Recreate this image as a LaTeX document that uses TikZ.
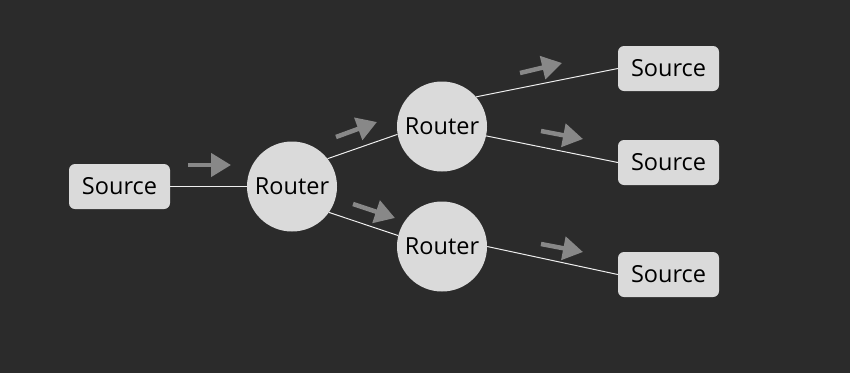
\documentclass[tikz,border=0pt]{standalone}
\usepackage{fontspec}
\setmainfont{Open Sans}
\usetikzlibrary{arrows.meta}
\definecolor{bg}{HTML}{2B2B2B}
\definecolor{nodefill}{HTML}{DADADA}
\definecolor{flow}{HTML}{888888}
\definecolor{link}{HTML}{EEEEEE}
\begin{document}
\begin{tikzpicture}[x=1pt,y=-1pt,
  srcbox/.style={draw=none,fill=nodefill,rounded corners=6pt,minimum width=101pt,minimum height=45pt,inner sep=0pt,font=\fontsize{23.5}{26}\selectfont,text=black},
  router/.style={circle,draw=none,fill=nodefill,minimum size=90pt,inner sep=0pt,font=\fontsize{23.5}{26}\selectfont,text=black},
  linkline/.style={draw=link,line width=1pt},
  flowarrow/.style={draw=flow,line width=4.5pt,-{Triangle[length=20pt,width=23pt]}}
]
\fill[bg] (0,0) rectangle (850,373);
\useasboundingbox (0,0) rectangle (850,373);

\node[srcbox] (s0) at (119.5,186.5) {Source};
\node[router] (r1) at (292,186.5) {Router};
\node[router] (r2) at (442,126.5) {Router};
\node[router] (r3) at (442,246.5) {Router};
\node[srcbox] (s1) at (668.5,68.5) {Source};
\node[srcbox] (s2) at (668.5,162.5) {Source};
\node[srcbox] (s3) at (668.5,274.5) {Source};

\draw[linkline] (s0.east) -- (r1.west);
\draw[linkline] (r1.38) -- (r2.190);
\draw[linkline] (r1.-35) -- (r3.166);
\draw[linkline] (r2.41) -- (s1.west);
\draw[linkline] (r2.-12) -- (s2.west);
\draw[linkline] (r3.east) -- (s3.west);

\coordinate (a1s) at (188,165); \coordinate (a1e) at (231,165);
\coordinate (a2s) at (336,137); \coordinate (a2e) at (377,122);
\coordinate (a3s) at (353,204); \coordinate (a3e) at (395,218);
\coordinate (a4s) at (520,73);  \coordinate (a4e) at (562,63);
\coordinate (a5s) at (541,131); \coordinate (a5e) at (583,139);
\coordinate (a6s) at (541,244); \coordinate (a6e) at (583,252);
\draw[flowarrow] (a1s) -- (a1e);
\draw[flowarrow] (a2s) -- (a2e);
\draw[flowarrow] (a3s) -- (a3e);
\draw[flowarrow] (a4s) -- (a4e);
\draw[flowarrow] (a5s) -- (a5e);
\draw[flowarrow] (a6s) -- (a6e);
\end{tikzpicture}
\end{document}
